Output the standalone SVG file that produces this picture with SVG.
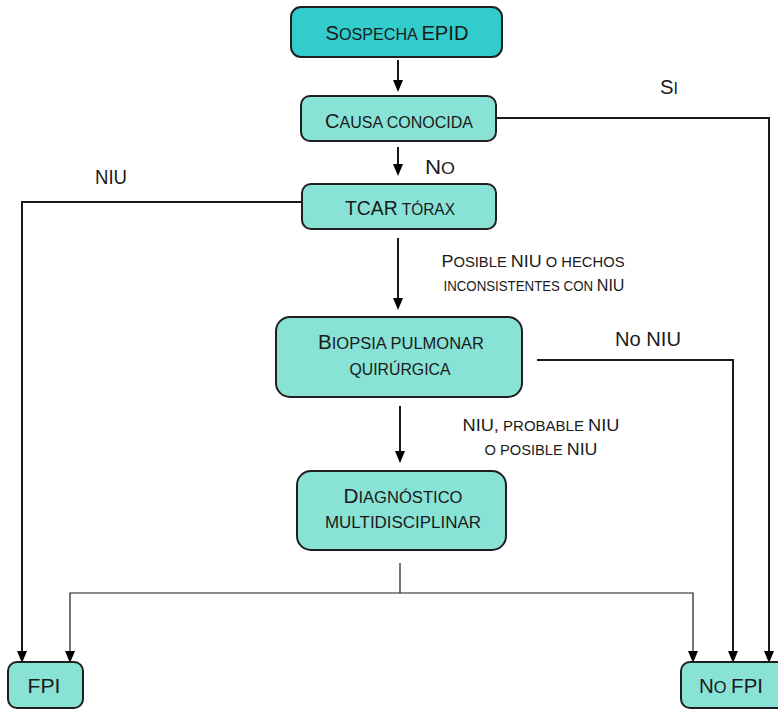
<svg xmlns="http://www.w3.org/2000/svg" width="778" height="710" viewBox="0 0 778 710">
  <style>
    .box { fill: #88e2d6; stroke: #1f1f1f; stroke-width: 2; }
    .box.main { fill: #33cccc; }
    text { font-family: "Liberation Sans", Arial, sans-serif; fill: #1a1a1a; text-anchor: middle; }
    .n { font-size: 20px; }
    .n .s { font-size: 16px; }
    .t { font-size: 17px; }
    .t .s { font-size: 14px; }
    .wire { fill: none; stroke: #1a1a1a; stroke-width: 2; }
    .thin { fill: none; stroke: #1a1a1a; stroke-width: 1.2; }
    .head { fill: #000; }
  </style>
  <rect width="778" height="710" fill="#ffffff"/>

  <g id="connectors">
    <line class="wire" x1="398" y1="60" x2="398" y2="82"/>
    <polyline class="wire" points="497,118 769,118 769,653"/>
    <line class="wire" x1="398" y1="147" x2="398" y2="166"/>
    <polyline class="wire" points="301,202 22,202 22,653"/>
    <line class="wire" x1="398" y1="238" x2="398" y2="300"/>
    <polyline class="wire" points="537,360 733,360 733,653"/>
    <line class="wire" x1="400" y1="406" x2="400" y2="453"/>
    <line class="thin" x1="400" y1="563" x2="400" y2="593"/>
    <polyline class="thin" points="70,653 70,593 693,593 693,653"/>
    <g class="head">
      <path d="M393,80 L403,80 L398,92 Z"/>
      <path d="M393,164 L403,164 L398,176 Z"/>
      <path d="M393,298 L403,298 L398,310 Z"/>
      <path d="M395,451 L405,451 L400,463 Z"/>
      <path d="M764,651 L774,651 L769,663 Z"/>
      <path d="M17,651 L27,651 L22,663 Z"/>
      <path d="M728,651 L738,651 L733,663 Z"/>
      <path d="M65,651 L75,651 L70,663 Z"/>
      <path d="M688,651 L698,651 L693,663 Z"/>
    </g>
    <!-- branch labels -->
    <text class="n" x="669" y="94" textLength="18" lengthAdjust="spacingAndGlyphs">S<tspan class="s">I</tspan></text>
    <text class="n" x="440" y="174" textLength="30" lengthAdjust="spacingAndGlyphs">N<tspan class="s">O</tspan></text>
    <text class="n" x="111" y="184" textLength="32" lengthAdjust="spacingAndGlyphs">NIU</text>
    <text class="t" x="533" y="267" textLength="183" lengthAdjust="spacingAndGlyphs">P<tspan class="s">OSIBLE </tspan>NIU<tspan class="s"> O HECHOS</tspan></text>
    <text class="t" x="534" y="291" textLength="181" lengthAdjust="spacingAndGlyphs"><tspan class="s">INCONSISTENTES CON </tspan>NIU</text>
    <text class="n" x="648" y="346" textLength="66" lengthAdjust="spacingAndGlyphs">No NIU</text>
    <text class="t" x="541" y="431" textLength="157" lengthAdjust="spacingAndGlyphs">NIU,<tspan class="s"> PROBABLE </tspan>NIU</text>
    <text class="t" x="541" y="455" textLength="113" lengthAdjust="spacingAndGlyphs"><tspan class="s">O POSIBLE </tspan>NIU</text>
  </g>

  <g id="sospecha">
    <rect class="box main" x="291" y="7" width="211" height="50" rx="10"/>
    <text class="n" x="397" y="40" textLength="143" lengthAdjust="spacingAndGlyphs">S<tspan class="s">OSPECHA </tspan>EPID</text>
  </g>
  <g id="causa">
    <rect class="box" x="301" y="96" width="195" height="45" rx="9"/>
    <text class="n" x="399" y="128" textLength="148" lengthAdjust="spacingAndGlyphs">C<tspan class="s">AUSA CONOCIDA</tspan></text>
  </g>
  <g id="tcar">
    <rect class="box" x="302" y="184" width="194" height="45" rx="9"/>
    <text class="n" x="400" y="215" textLength="110" lengthAdjust="spacingAndGlyphs">TCAR<tspan class="s"> TÓRAX</tspan></text>
  </g>
  <g id="biopsia">
    <rect class="box" x="276" y="317" width="246" height="80" rx="14"/>
    <text class="n" x="401" y="349" textLength="166" lengthAdjust="spacingAndGlyphs">B<tspan class="s">IOPSIA PULMONAR</tspan></text>
    <text class="n" x="400" y="375" textLength="101" lengthAdjust="spacingAndGlyphs"><tspan class="s">QUIRÚRGICA</tspan></text>
  </g>
  <g id="diagnostico">
    <rect class="box" x="297" y="471" width="209" height="79" rx="14"/>
    <text class="n" x="403" y="503" textLength="119" lengthAdjust="spacingAndGlyphs">D<tspan class="s">IAGNÓSTICO</tspan></text>
    <text class="n" x="403" y="528" textLength="156" lengthAdjust="spacingAndGlyphs"><tspan class="s">MULTIDISCIPLINAR</tspan></text>
  </g>
  <g id="fpi">
    <rect class="box" x="8" y="662" width="75" height="46" rx="9"/>
    <text class="n" x="44" y="693" textLength="33" lengthAdjust="spacingAndGlyphs">FPI</text>
  </g>
  <g id="nofpi">
    <rect class="box" x="681" y="662" width="106" height="46" rx="9"/>
    <text class="n" x="731" y="693" textLength="64" lengthAdjust="spacingAndGlyphs">N<tspan class="s">O </tspan>FPI</text>
  </g>
</svg>
